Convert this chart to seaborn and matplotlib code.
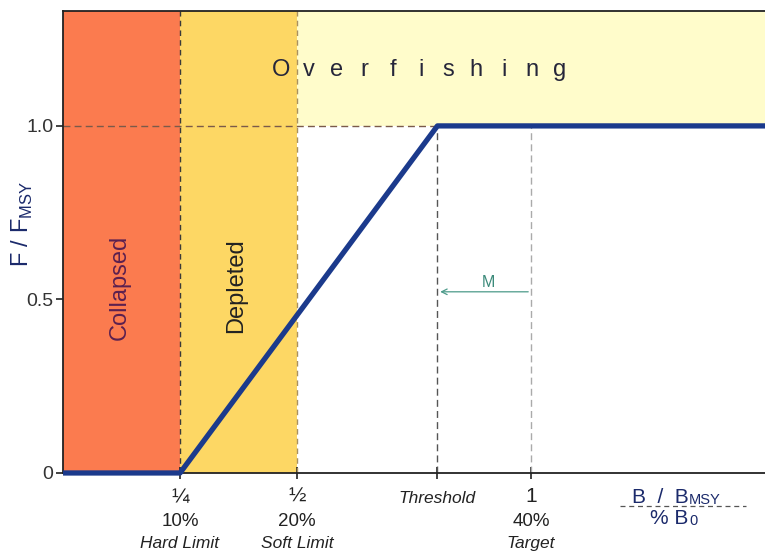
import numpy as np
import pandas as pd
import matplotlib
matplotlib.use("Agg")
import matplotlib.pyplot as plt
import matplotlib.transforms as mtransforms
import seaborn as sns

# harvest control rule
b_ratio = [0.0, 0.25, 0.8, 1.5]
f_ratio = [0.0, 0.0, 1.0, 1.0]

# zones
hard_limit = 0.25
soft_limit = 0.5
threshold = 0.8
target = 1.0
f_msy = 1.0

tick_pos = [0.25, 0.5, 0.8, 1.0]
tick_top = ["¼", "½", "", "1"]
tick_pct = ["10%", "20%", "", "40%"]
tick_name = ["Hard Limit", "Soft Limit", "Threshold", "Target"]

sns.set_style("ticks")
plt.rcParams['font.family'] = ['Liberation Sans', 'DejaVu Sans']

df = pd.DataFrame({"B": b_ratio, "F": f_ratio})

fig = plt.figure(figsize=(7.65, 5.51), dpi=100)
ax = fig.add_axes([0.0824, 0.1416, 0.9176, 0.8384])
xmax, ymax = 1.5, 1.331
ax.set_xlim(0, xmax)
ax.set_ylim(0, ymax)

# background zones
ax.axvspan(0, hard_limit, color="#FB7B4F", lw=0, zorder=0)
ax.axvspan(hard_limit, soft_limit, color="#FDD764", lw=0, zorder=0)
ax.fill_between([soft_limit, xmax], f_msy, ymax, color="#FFFCCB", lw=0, zorder=0)

# reference lines
ax.axvline(hard_limit, color="#3a3a3a", ls=(0, (4, 3)), lw=1, zorder=1)
ax.axvline(soft_limit, color="#a89060", ls=(0, (4, 3)), lw=1, zorder=1)
ax.plot([threshold, threshold], [0, f_msy], color="#555555", ls=(0, (5, 3)), lw=1, zorder=1)
ax.plot([target, target], [0, f_msy], color="#aaaaaa", ls=(0, (5, 3)), lw=1, zorder=1)
ax.plot([0, threshold], [f_msy, f_msy], color="#7a5a4a", ls=(0, (5, 3)), lw=1, zorder=1)

sns.lineplot(data=df, x="B", y="F", ax=ax, color="#1B3A8C", lw=3.8, zorder=3,
             clip_on=False, solid_capstyle="butt")

# zone labels
ax.text(0.121, 0.536, "Collapsed", rotation=90, ha="center", va="center",
        fontsize=17, color="#5B2050")
ax.text(0.37, 0.541, "Depleted", rotation=90, ha="center", va="center",
        fontsize=17, color="#222222")
for i, ch in enumerate("Overfishing"):
    ax.text(0.466 + i * 0.0596, 1.161, ch, ha="center", va="center",
            fontsize=17, color="#26263a")

# M arrow
ax.annotate("", xy=(threshold, 0.522), xytext=(target, 0.522),
            arrowprops=dict(arrowstyle="->", color="#4C9A8A", lw=0.9))
ax.text(0.908, 0.55, "M", ha="center", va="center", fontsize=11.5, color="#3C8A7A")

# axes styling
ax.set_yticks([0, 0.5, 1.0])
ax.set_yticklabels(["0", "0.5", "1.0"], fontsize=14, color="#333333")
ax.set_xticks(tick_pos)
ax.set_xticklabels([])
ax.tick_params(axis="x", direction="inout", length=8, width=1.2, color="#222222")
ax.tick_params(axis="y", direction="out", length=5, width=1.2, color="#222222", pad=2)
for s in ["left", "bottom", "top"]:
    ax.spines[s].set_linewidth(1.3)
    ax.spines[s].set_color("#222222")
ax.spines["right"].set_visible(False)
ax.set_xlabel("")
ax.set_ylabel("")
ax.text(-0.058, 0.54, r"F / F$_{\mathregular{MSY}}$", rotation=90, ha="center", va="center",
        fontsize=17, color="#1B2A6B", transform=ax.transAxes)

# multi-line x tick labels
trans = mtransforms.blended_transform_factory(ax.transData, ax.transAxes)
for x, top, pct, name in zip(tick_pos, tick_top, tick_pct, tick_name):
    if top:
        ax.annotate(top, xy=(x, 0), xycoords=trans, xytext=(0, -17), textcoords="offset points",
                    ha="center", va="center", fontsize=15, color="#222222")
        ax.annotate(pct, xy=(x, 0), xycoords=trans, xytext=(0, -35), textcoords="offset points",
                    ha="center", va="center", fontsize=13.5, color="#222222")
        ax.annotate(name, xy=(x, 0), xycoords=trans, xytext=(0, -50.5), textcoords="offset points",
                    ha="center", va="center", fontsize=12.5, style="italic", color="#222222")
    else:
        ax.annotate(name, xy=(x, 0), xycoords=trans, xytext=(0, -18.5), textcoords="offset points",
                    ha="center", va="center", fontsize=12.5, style="italic", color="#222222")

# x axis label: B / B_MSY over % B_0, subscripts sitting near the baseline
split = 1.336
for main, sub, dy in [("B  /  B", "MSY", -21.5), ("% B", "0", -37)]:
    ax.annotate(main, xy=(split, 0), xycoords=trans, xytext=(0, dy), textcoords="offset points",
                ha="right", va="baseline", fontsize=15, color="#1B2A6B")
    ax.annotate(sub, xy=(split, 0), xycoords=trans, xytext=(0.5, dy - 0.5), textcoords="offset points",
                ha="left", va="baseline", fontsize=10.5, color="#1B2A6B")
ax.plot([1.19, 1.46], [-0.072, -0.072], transform=trans, color="#555555",
        ls=(0, (4, 3)), lw=0.9, clip_on=False)

fig.savefig("out.png", dpi=100)
